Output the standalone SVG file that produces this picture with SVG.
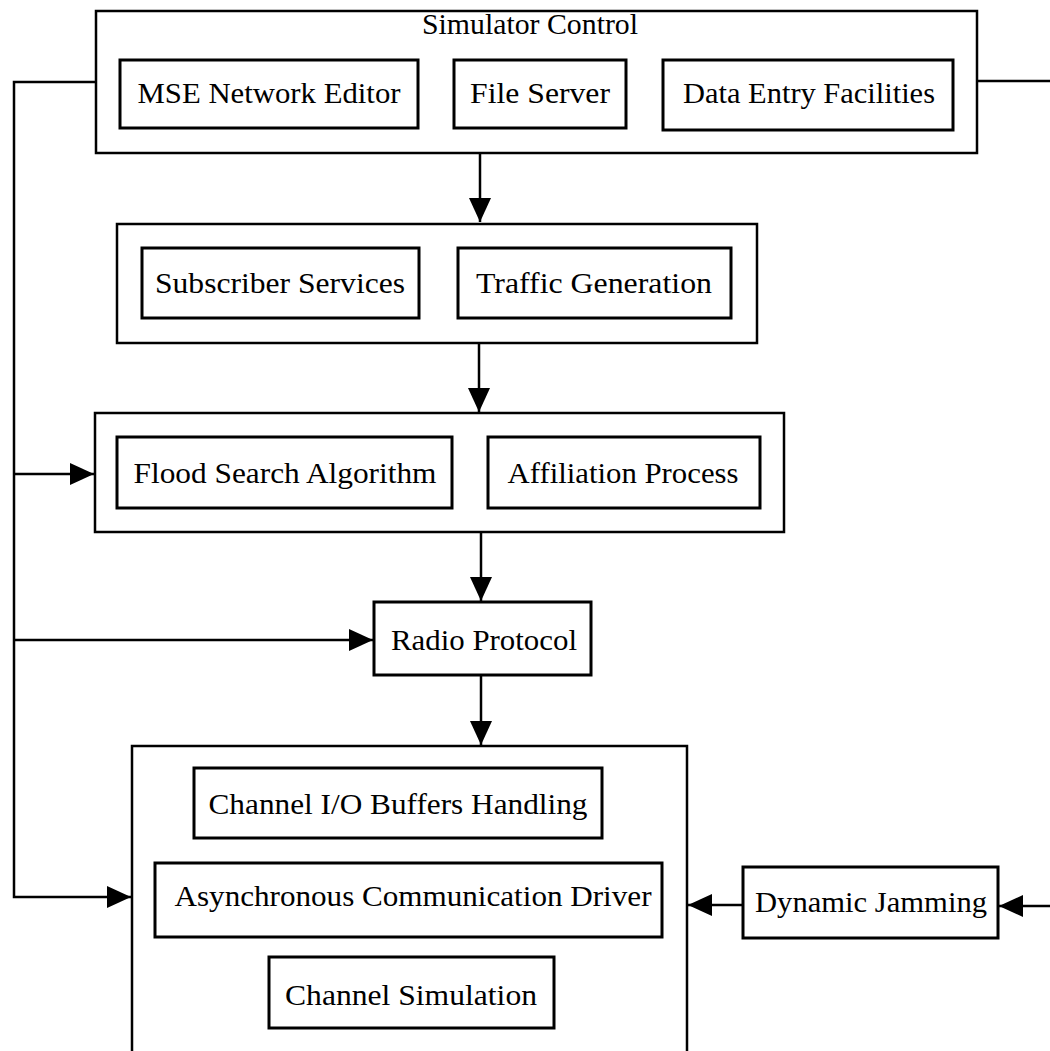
<svg xmlns="http://www.w3.org/2000/svg" width="1050" height="1051" viewBox="0 0 1050 1051">
<style>
  .outer { fill: none; stroke: #000; stroke-width: 2.5; }
  .inner { fill: none; stroke: #000; stroke-width: 3; }
  .lbl { font-family: "Liberation Serif", "Times New Roman", serif; font-size: 29px; fill: #000; text-anchor: middle; }
  .conn { fill: none; stroke: #000; stroke-width: 2.5; }
</style>
<defs>
  <marker id="arr" markerUnits="userSpaceOnUse" markerWidth="24" markerHeight="22" refX="24" refY="11" orient="auto">
    <path d="M0,0 L24,11 L0,22 z" fill="#000"/>
  </marker>
</defs>
<rect width="1050" height="1051" fill="#fff"/>

<g id="connectors">
  <path class="conn" d="M480,153 V222" marker-end="url(#arr)"/>
  <path class="conn" d="M479,343 V412" marker-end="url(#arr)"/>
  <path class="conn" d="M481,532 V601" marker-end="url(#arr)"/>
  <path class="conn" d="M481,675 V745" marker-end="url(#arr)"/>
  <path class="conn" d="M96,82 H14 V897 H131" marker-end="url(#arr)"/>
  <path class="conn" d="M14,474 H94" marker-end="url(#arr)"/>
  <path class="conn" d="M14,640 H373" marker-end="url(#arr)"/>
  <path class="conn" d="M977,81 H1050"/>
  <path class="conn" d="M1050,906 H999" marker-end="url(#arr)"/>
  <path class="conn" d="M743,905 H688" marker-end="url(#arr)"/>
</g>

<g id="simulator-control">
  <rect class="outer" x="96" y="11" width="881" height="142"/>
  <text class="lbl" x="530" y="34" textLength="216" lengthAdjust="spacingAndGlyphs">Simulator Control</text>
  <g id="mse-network-editor">
    <rect class="inner" x="120" y="60" width="298" height="68"/>
    <text class="lbl" x="269" y="103" textLength="263" lengthAdjust="spacingAndGlyphs">MSE Network Editor</text>
  </g>
  <g id="file-server">
    <rect class="inner" x="454" y="60" width="172" height="68"/>
    <text class="lbl" x="540" y="103" textLength="140" lengthAdjust="spacingAndGlyphs">File Server</text>
  </g>
  <g id="data-entry-facilities">
    <rect class="inner" x="663" y="60" width="290" height="70"/>
    <text class="lbl" x="809" y="103" textLength="252" lengthAdjust="spacingAndGlyphs">Data Entry Facilities</text>
  </g>
</g>

<g id="services-group">
  <rect class="outer" x="117" y="224" width="640" height="119"/>
  <g id="subscriber-services">
    <rect class="inner" x="142" y="248" width="277" height="70"/>
    <text class="lbl" x="280" y="293" textLength="250" lengthAdjust="spacingAndGlyphs">Subscriber Services</text>
  </g>
  <g id="traffic-generation">
    <rect class="inner" x="458" y="248" width="273" height="70"/>
    <text class="lbl" x="594" y="293" textLength="236" lengthAdjust="spacingAndGlyphs">Traffic Generation</text>
  </g>
</g>

<g id="routing-group">
  <rect class="outer" x="95" y="413" width="689" height="119"/>
  <g id="flood-search-algorithm">
    <rect class="inner" x="117" y="437" width="335" height="71"/>
    <text class="lbl" x="285" y="483" textLength="303" lengthAdjust="spacingAndGlyphs">Flood Search Algorithm</text>
  </g>
  <g id="affiliation-process">
    <rect class="inner" x="488" y="437" width="272" height="71"/>
    <text class="lbl" x="623" y="483" textLength="231" lengthAdjust="spacingAndGlyphs">Affiliation Process</text>
  </g>
</g>

<g id="radio-protocol">
  <rect class="inner" x="374" y="602" width="217" height="73"/>
  <text class="lbl" x="484" y="650" textLength="186" lengthAdjust="spacingAndGlyphs">Radio Protocol</text>
</g>

<g id="channel-group">
  <path class="outer" d="M132,1060 V746 H687 V1060"/>
  <g id="channel-io-buffers">
    <rect class="inner" x="194" y="768" width="408" height="70"/>
    <text class="lbl" x="398" y="814" textLength="379" lengthAdjust="spacingAndGlyphs">Channel I/O Buffers Handling</text>
  </g>
  <g id="async-comm-driver">
    <rect class="inner" x="155" y="863" width="507" height="74"/>
    <text class="lbl" x="413" y="906" textLength="477" lengthAdjust="spacingAndGlyphs">Asynchronous Communication Driver</text>
  </g>
  <g id="channel-simulation">
    <rect class="inner" x="269" y="957" width="285" height="71"/>
    <text class="lbl" x="411" y="1005" textLength="252" lengthAdjust="spacingAndGlyphs">Channel Simulation</text>
  </g>
</g>

<g id="dynamic-jamming">
  <rect class="inner" x="743" y="867" width="255" height="71"/>
  <text class="lbl" x="871" y="912" textLength="232" lengthAdjust="spacingAndGlyphs">Dynamic Jamming</text>
</g>
</svg>
